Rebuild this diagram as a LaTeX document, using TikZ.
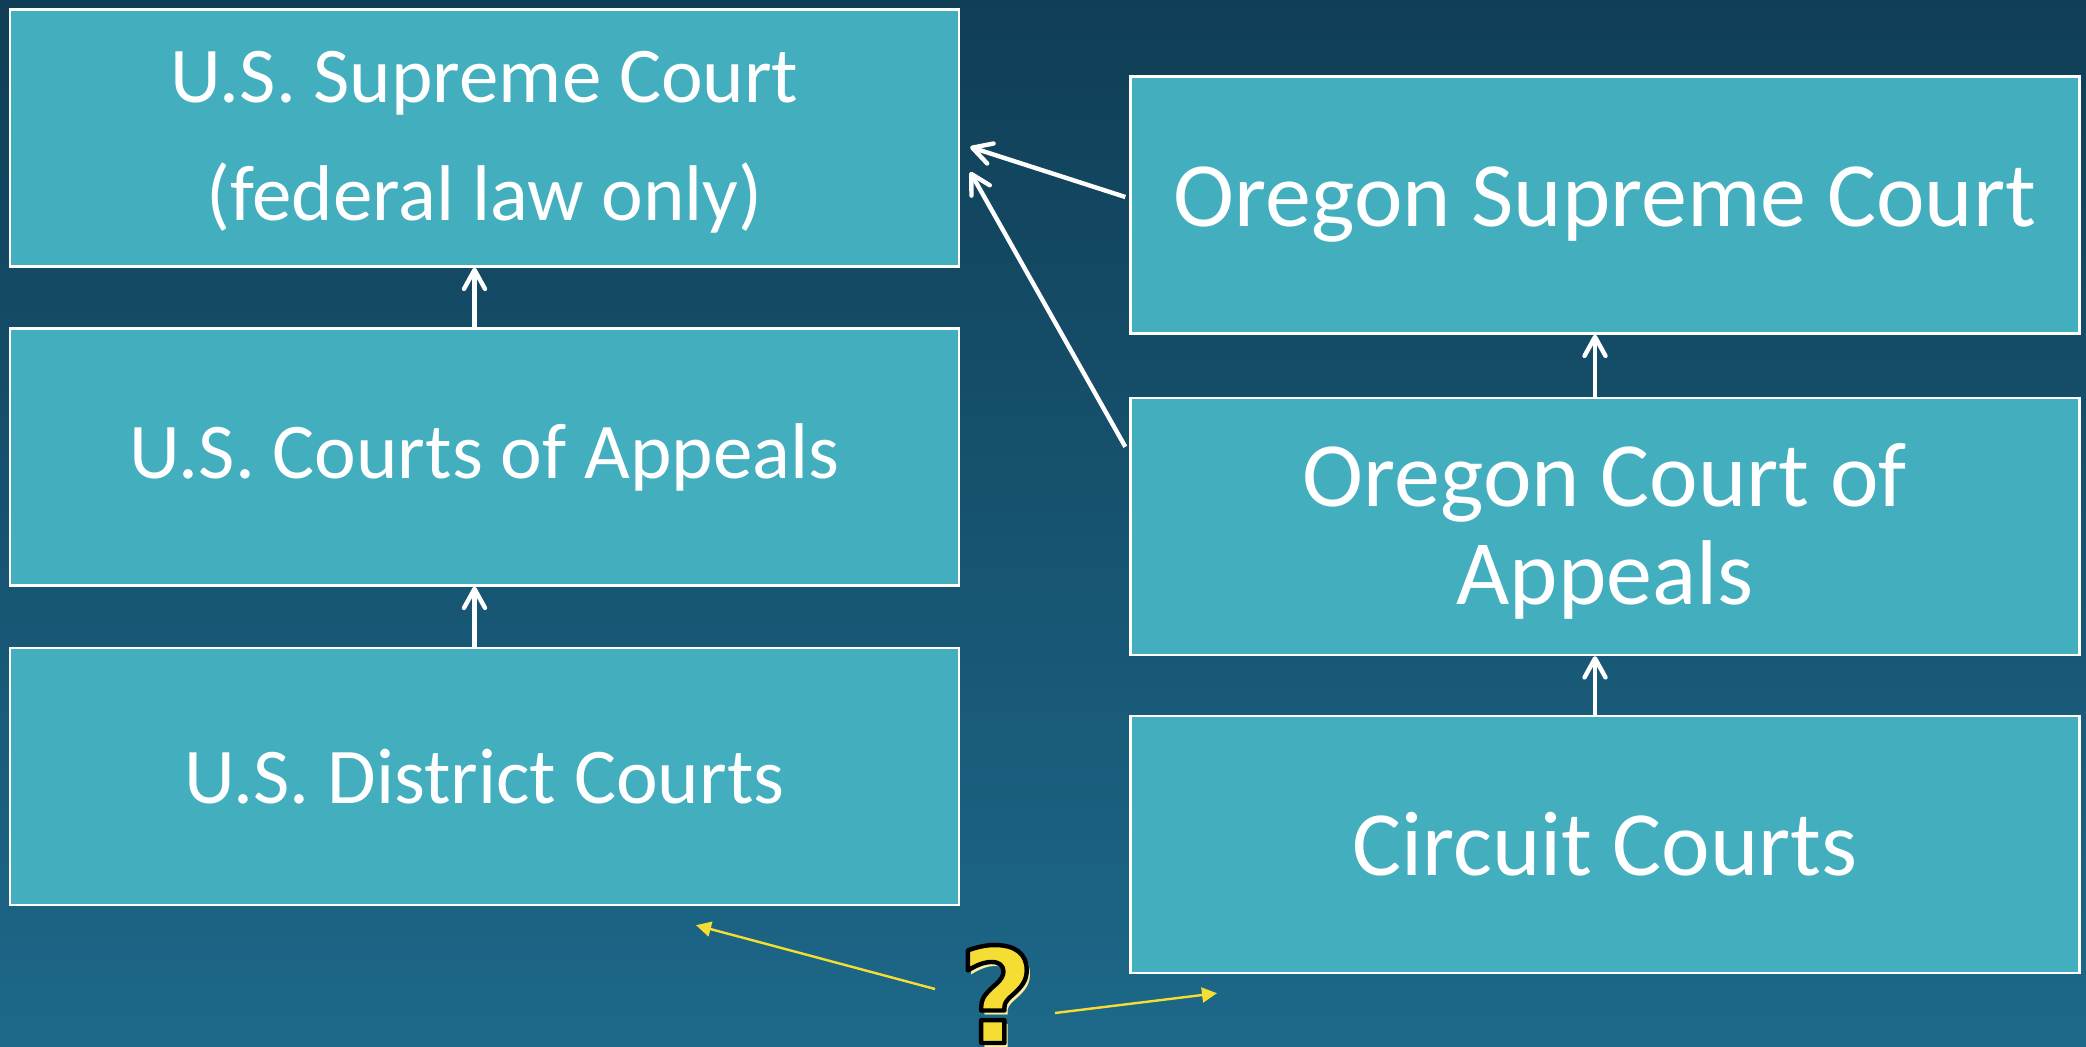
\documentclass[tikz,border=0pt]{standalone}
\usepackage{fontspec}
\setmainfont{Carlito}
\newfontfamily\qfont{DejaVu Sans}
\usetikzlibrary{arrows.meta,calc}
\definecolor{boxfill}{RGB}{66,174,190}
\definecolor{bgtop}{RGB}{16,62,86}
\definecolor{bgbot}{RGB}{29,104,137}
\definecolor{qyellow}{RGB}{246,221,52}
\definecolor{qshadow}{RGB}{250,240,160}
\newcommand{\outlinedq}{\textcolor{qyellow}{\special{pdf:literal direct 2 Tr 2.2 w 1 j 0 0 0 RG}?\special{pdf:literal direct 0 Tr}}}
\begin{document}
\begin{tikzpicture}[x=0.5pt,y=-0.5pt,
  court/.style={draw=white,line width=1.2pt,fill=boxfill,text=white,
    minimum width=474.5pt,minimum height=128.5pt,align=center,inner sep=0pt},
  leftfont/.style={font=\fontsize{39.5}{59}\selectfont},
  rightfont/.style={font=\fontsize{46}{49}\selectfont},
  up/.style={draw=white,line width=2.2pt,-{Straight Barb[length=9.5pt,width=10.5pt,round]}},
  qarrow/.style={draw=qyellow,line width=1.2pt,-{Triangle[length=7.5pt,width=7.5pt]}},
  qmark/.style={font=\qfont\bfseries\fontsize{66}{66}\selectfont,anchor=base,inner sep=0pt}]
\useasboundingbox[top color=bgtop,bottom color=bgbot] (0,0) rectangle (2086,1047);
\node[court,leftfont] (ussc) at (484.5,138) {\rule{0pt}{30pt}U.S. Supreme Court\\(federal law only)};
\node[court,leftfont] (usca) at (484.5,457) {U.S. Courts of Appeals};
\node[court,leftfont] (usdc) at (484.5,776.5) {U.S. District Courts};
\node[court,rightfont] (osc) at (1605,205) {Oregon Supreme Court};
\node[court,rightfont] (oca) at (1605,526.5) {\rule{0pt}{36pt}Oregon Court of\\Appeals};
\node[court,rightfont] (cc) at (1605,844.5) {Circuit Courts};
\draw[up] ([xshift=-5pt]usca.north) -- ([xshift=-5pt]ussc.south);
\draw[up] ([xshift=-5pt]usdc.north) -- ([xshift=-5pt]usca.south);
\draw[up] ([xshift=-5pt]oca.north) -- ([xshift=-5pt]osc.south);
\draw[up] ([xshift=-5pt]cc.north) -- ([xshift=-5pt]oca.south);
\draw[up] ([xshift=-2pt,yshift=4pt]osc.west) -- ([xshift=5pt,yshift=-4.5pt]ussc.east);
\draw[up] ([xshift=-2pt,yshift=-25pt]oca.north west) -- ([xshift=5pt,yshift=-17pt]ussc.east);
\node[qmark,text=qshadow] (qs) at (1001,1047) {?};
\node[qmark] (q) at (997,1043) {\outlinedq};
\coordinate (la) at (935,989);
\coordinate (ra) at (1055,1013);
\draw[qarrow] (la) -- ([xshift=105.75pt,yshift=-9.5pt]usdc.south);
\draw[qarrow] (ra) -- ([xshift=-194pt,yshift=-9.5pt]cc.south);
\end{tikzpicture}
\end{document}
